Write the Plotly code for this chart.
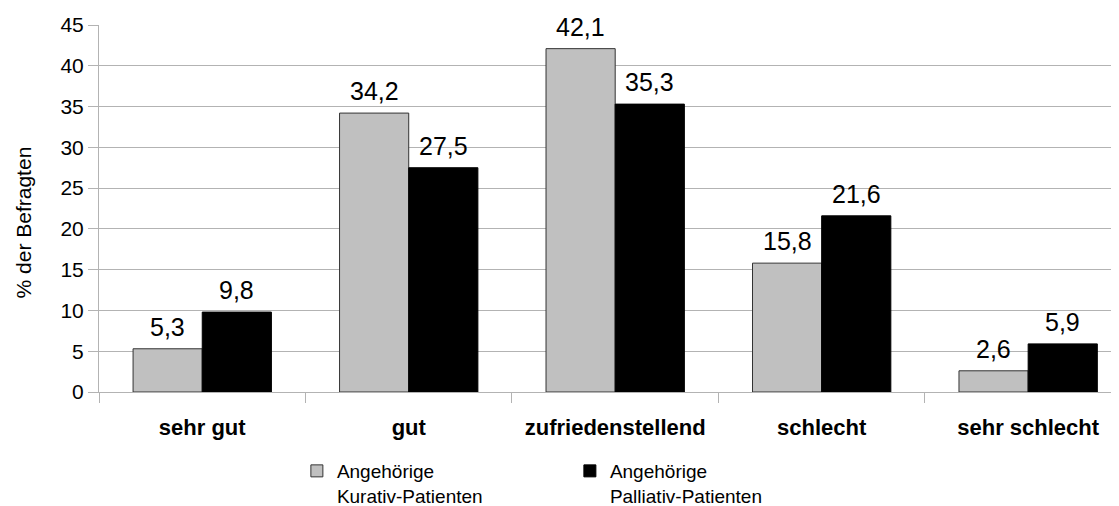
import plotly.graph_objects as go

categories = ["sehr gut", "gut", "zufriedenstellend", "schlecht", "sehr schlecht"]
kurativ = [5.3, 34.2, 42.1, 15.8, 2.6]
palliativ = [9.8, 27.5, 35.3, 21.6, 5.9]
series_names = ["Angehörige<br>Kurativ-Patienten", "Angehörige<br>Palliativ-Patienten"]
y_ticks = [0, 5, 10, 15, 20, 25, 30, 35, 40, 45]
y_title = "% der Befragten"

def fmt(v):
    return f"{v:.1f}".replace(".", ",")

cat_labels = [f"<b>{c}</b>" for c in categories]
FONT = "Liberation Sans, Arial, sans-serif"

fig = go.Figure()
fig.add_trace(go.Bar(
    x=cat_labels, y=kurativ, name=series_names[0],
    marker=dict(color="#c0c0c0", line=dict(color="#333333", width=1)),
))
fig.add_trace(go.Bar(
    x=cat_labels, y=palliativ, name=series_names[1],
    marker=dict(color="#000000", line=dict(color="#000000", width=1)),
))

annotations = []
for vals, shift in ((kurativ, -34.6), (palliativ, 34.6)):
    for c, v in zip(cat_labels, vals):
        annotations.append(dict(
            x=c, y=v, xref="x", yref="y", text=fmt(v), showarrow=False,
            xshift=shift, yshift=6, yanchor="bottom", xanchor="center",
            font=dict(size=25, family=FONT, color="black"),
        ))
annotations.append(dict(
    x=-(99 - 23) / 1020, y=0.462, xref="paper", yref="paper", text=y_title,
    textangle=-90, showarrow=False, xanchor="center", yanchor="middle",
    font=dict(size=21, family=FONT, color="black"),
))

fig.update_layout(
    width=1111, height=498,
    margin=dict(l=91, r=0, t=17, b=114, autoexpand=False),
    paper_bgcolor="white", plot_bgcolor="white",
    barmode="group", bargap=0.33, bargroupgap=0,
    font=dict(family=FONT, color="black"),
    showlegend=True,
    annotations=annotations,
    legend=dict(
        orientation="h", x=0.194, y=0.1084, yref="container",
        xanchor="left", yanchor="top",
        font=dict(size=19, family=FONT, color="black"),
        entrywidth=228, entrywidthmode="pixels", valign="top",
        traceorder="normal",
    ),
    xaxis=dict(
        range=[-0.5, 4.44], tickson="boundaries", ticks="outside", ticklen=10,
        tickcolor="#b3b3b3", showline=True, linecolor="#b3b3b3", linewidth=1,
        tickfont=dict(size=22, family=FONT, color="black"), showgrid=False,
        automargin=False, ticklabelstandoff=16,
    ),
    yaxis=dict(
        range=[0, 45], tickvals=y_ticks, ticks="outside", ticklen=10,
        tickcolor="#b3b3b3", showline=True, linecolor="#b3b3b3",
        gridcolor="#b3b3b3", gridwidth=1, zeroline=False,
        tickfont=dict(size=21, family=FONT, color="black"),
        automargin=False,
    ),
)

fig.write_html("out.html")
